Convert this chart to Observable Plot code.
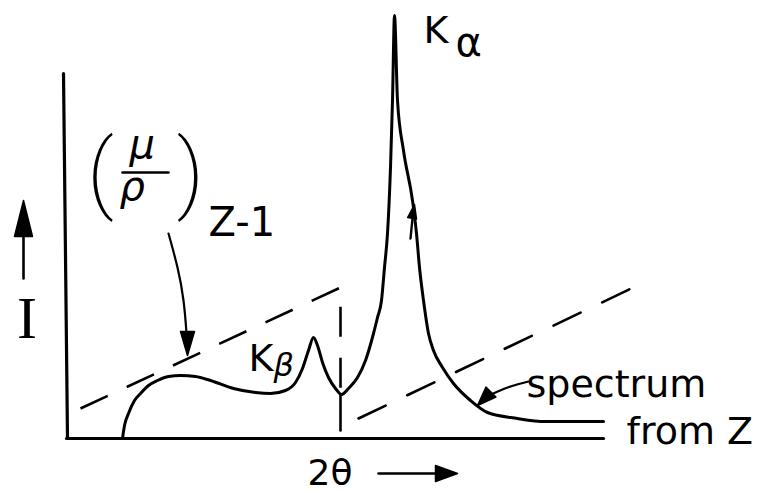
<!DOCTYPE html>
<html>
<head>
<meta charset="utf-8">
<script src="https://cdn.jsdelivr.net/npm/d3@7"></script>
<script src="https://cdn.jsdelivr.net/npm/@observablehq/plot@0.6"></script>
<style>
  html, body { margin: 0; padding: 0; background: #fff; }
</style>
</head>
<body>
<script>
// ---- data (arbitrary units: 2θ on x, intensity I on y) ----
const spectrum2theta = [11.2, 11.6, 12.4, 13.6, 14.8, 16.4, 18.2, 20.4, 22.8, 25.8, 28.8, 33.4, 37.8, 40.8, 43.8, 45.8, 47.2, 48.4, 49.4, 50.2, 51.2, 52.4, 53.8, 55.0, 56.4, 58.2, 59.8, 61.4, 62.2, 63.0, 63.6, 64.2, 64.8, 65.2, 65.6, 66.2, 67.4, 69.2, 70.0, 70.6, 71.4, 72.4, 73.4, 75.2, 77.4, 80.8, 84.2, 90.2, 95.8, 107.4];
const spectrumI      = [0, 3.25, 6.25, 9.5, 11.25, 13.25, 14.5, 15.5, 15.75, 15.5, 14.5, 12.5, 11.5, 11.25, 12, 14, 17.5, 22, 25.25, 23.25, 19, 15.25, 12.5, 11, 12.5, 15.25, 19.5, 26.25, 30.25, 34.5, 42.75, 51.25, 67.75, 84.5, 105.75, 84.5, 72, 59.5, 51.25, 42.75, 34.5, 26.25, 22, 17.75, 13.75, 9.5, 6.5, 5, 4.25, 4.25];

// mass absorption coefficient of element Z-1 (dashed, with K edge)
const absorption2theta = [2.8, 54.8, 54.8];
const absorptionMu     = [7.5, 37.75, 11];
const edgeFoot2theta   = [54.8, 54.8];
const edgeFootMu       = [11, 2];
const absorptionHigh2theta = [58.4, 114.2];
const absorptionHighMu     = [5, 38.25];

// pointer arrows
const muPointer2theta = [20.4, 22.2, 23.4, 24.0, 24.2];
const muPointerI      = [51.25, 42.75, 34.5, 26.25, 22];
const specPointer2theta = [92.4, 88.8, 85.8, 84.2];
const specPointerI      = [14.25, 13, 11.5, 10.5];

// axes frame
const axisY2theta = [0.2, -0.6];
const axisYI      = [0, 91.25];
const axisX2theta = [0, 107.4];
const axisXI      = [0, 0];

// labels
const labelSpectrum = ["spectrum"];
const labelFromZ = ["from Z"];
const labelK = ["K"];
const labelAlpha = ["α"];
const labelBeta = ["β"];
const labelMu = ["μ"];
const labelRho = ["ρ"];
const labelSub = ["Z-1"];
const labelParens = ["(", ")"];
const labelI = ["I"];
const label2theta = ["2θ"];

const pts = (xs, ys) => xs.map((x, i) => ({x, y: ys[i]}));
const font = "DejaVu Sans";

// filled arrowhead symbol: tip at the anchor point, pointing at screen angle a (degrees clockwise from up)
function arrowhead(a, L, w) {
  const t = a * Math.PI / 180;
  const dx = Math.sin(t), dy = -Math.cos(t);
  const px = Math.cos(t), py = Math.sin(t);
  return {
    draw(context) {
      context.moveTo(0, 0);
      context.lineTo(-L * dx + w * px, -L * dy + w * py);
      context.lineTo(-L * dx - w * px, -L * dy - w * py);
      context.closePath();
    }
  };
}
const head = (x, y, a, L, w) =>
  Plot.dot([0], {x, y, symbol: arrowhead(a, L, w), r: 5, fill: "#000", stroke: "#000", strokeWidth: 1.5, strokeLinejoin: "round"});

const chart = Plot.plot({
  width: 763,
  height: 492,
  margin: 0,
  style: {background: "#fff", color: "#000", overflow: "visible"},
  x: {domain: [0, 108], range: [66, 606], axis: null},
  y: {domain: [0, 106], range: [438, 14], axis: null},
  marks: [
    // axes
    Plot.line(pts(axisY2theta, axisYI), {x: "x", y: "y", stroke: "#000", strokeWidth: 3.2}),
    Plot.line(pts(axisX2theta, axisXI), {x: "x", y: "y", stroke: "#000", strokeWidth: 3.2}),
    // absorption coefficient (dashed)
    Plot.line(pts(absorption2theta, absorptionMu), {x: "x", y: "y", stroke: "#000", strokeWidth: 2.6, strokeDasharray: "30,21", strokeLinecap: "butt"}),
    Plot.line(pts(edgeFoot2theta, edgeFootMu), {x: "x", y: "y", stroke: "#000", strokeWidth: 2.6}),
    Plot.line(pts(absorptionHigh2theta, absorptionHighMu), {x: "x", y: "y", stroke: "#000", strokeWidth: 2.6, strokeDasharray: "30,24"}),
    // spectrum
    Plot.line(pts(spectrum2theta, spectrumI), {x: "x", y: "y", stroke: "#000", strokeWidth: 3, curve: "monotone-x"}),
    // pointer arrows
    Plot.line(pts(muPointer2theta, muPointerI), {x: "x", y: "y", stroke: "#000", strokeWidth: 2.2, curve: "natural"}),
    head(24.2, 20.75, 180, 24, 7),
    Plot.line(pts(specPointer2theta, specPointerI), {x: "x", y: "y", stroke: "#000", strokeWidth: 2.2, curve: "natural"}),
    head(82.2, 8.25, -135, 19, 7),
    // small mark on Kα flank
    Plot.line(pts([68.8, 69.2], [50, 55]), {x: "x", y: "y", stroke: "#000", strokeWidth: 2.4}),
    head(69.6, 58.5, 10, 14, 4.5),
    // axis direction arrows
    Plot.line(pts([-8.6, -8.6], [40, 51]), {x: "x", y: "y", stroke: "#000", strokeWidth: 2.6}),
    head(-8.6, 59.5, 0, 36, 9),
    Plot.line(pts([62.4, 75], [-8.75, -8.75]), {x: "x", y: "y", stroke: "#000", strokeWidth: 2.6}),
    head(78.2, -8.75, 90, 22, 8),
    // texts
    Plot.text(labelSpectrum, {x: 92, y: 10.5, text: d => d, textAnchor: "start", lineAnchor: "bottom", fontSize: 38, fontFamily: font, fill: "#000"}),
    Plot.text(labelFromZ, {x: 112, y: -1.25, text: d => d, textAnchor: "start", lineAnchor: "bottom", fontSize: 38, fontFamily: font, fill: "#000"}),
    Plot.text(labelK, {x: 71.4, y: 99, text: d => d, textAnchor: "start", lineAnchor: "bottom", fontSize: 38, fontFamily: font, fill: "#000"}),
    Plot.text(labelAlpha, {x: 77.8, y: 95.75, text: d => d, textAnchor: "start", lineAnchor: "bottom", fontSize: 40, fontFamily: font, fill: "#000"}),
    Plot.text(labelK, {x: 36.4, y: 17, text: d => d, textAnchor: "start", lineAnchor: "bottom", fontSize: 38, fontFamily: font, fill: "#000"}),
    Plot.text(labelBeta, {x: 41.4, y: 15.75, text: d => d, textAnchor: "start", lineAnchor: "bottom", fontSize: 32, fontFamily: font, fontStyle: "italic", fill: "#000"}),
    Plot.text(labelMu, {x: 12.6, y: 70.25, text: d => d, textAnchor: "start", lineAnchor: "bottom", fontSize: 40, fontFamily: font, fontStyle: "italic", fill: "#000"}),
    Plot.line(pts([11.2, 20.4], [66.5, 66.5]), {x: "x", y: "y", stroke: "#000", strokeWidth: 2.6}),
    Plot.text(labelRho, {x: 10.6, y: 59.75, text: d => d, textAnchor: "start", lineAnchor: "bottom", fontSize: 40, fontFamily: font, fontStyle: "italic", fill: "#000"}),
    Plot.text(labelParens, {x: [6.8, 24.8], y: [66.25, 66.25], text: d => d, textAnchor: "middle", lineAnchor: "middle", fontSize: 88, fontFamily: "Roboto", fontWeight: 200, fill: "#000"}),
    Plot.text(labelSub, {x: 28.4, y: 50.75, text: d => d, textAnchor: "start", lineAnchor: "bottom", fontSize: 40, fontFamily: font, fill: "#000"}),
    Plot.text(labelI, {x: -7.9, y: 25.25, text: d => d, textAnchor: "middle", lineAnchor: "bottom", fontSize: 60, fontFamily: "Liberation Serif", fill: "#000"}),
    Plot.text(label2theta, {x: 48.2, y: -11.5, text: d => d, textAnchor: "start", lineAnchor: "bottom", fontSize: 36, fontFamily: font, fill: "#000"})
  ]
});
document.body.appendChild(chart);
</script>
</body>
</html>
